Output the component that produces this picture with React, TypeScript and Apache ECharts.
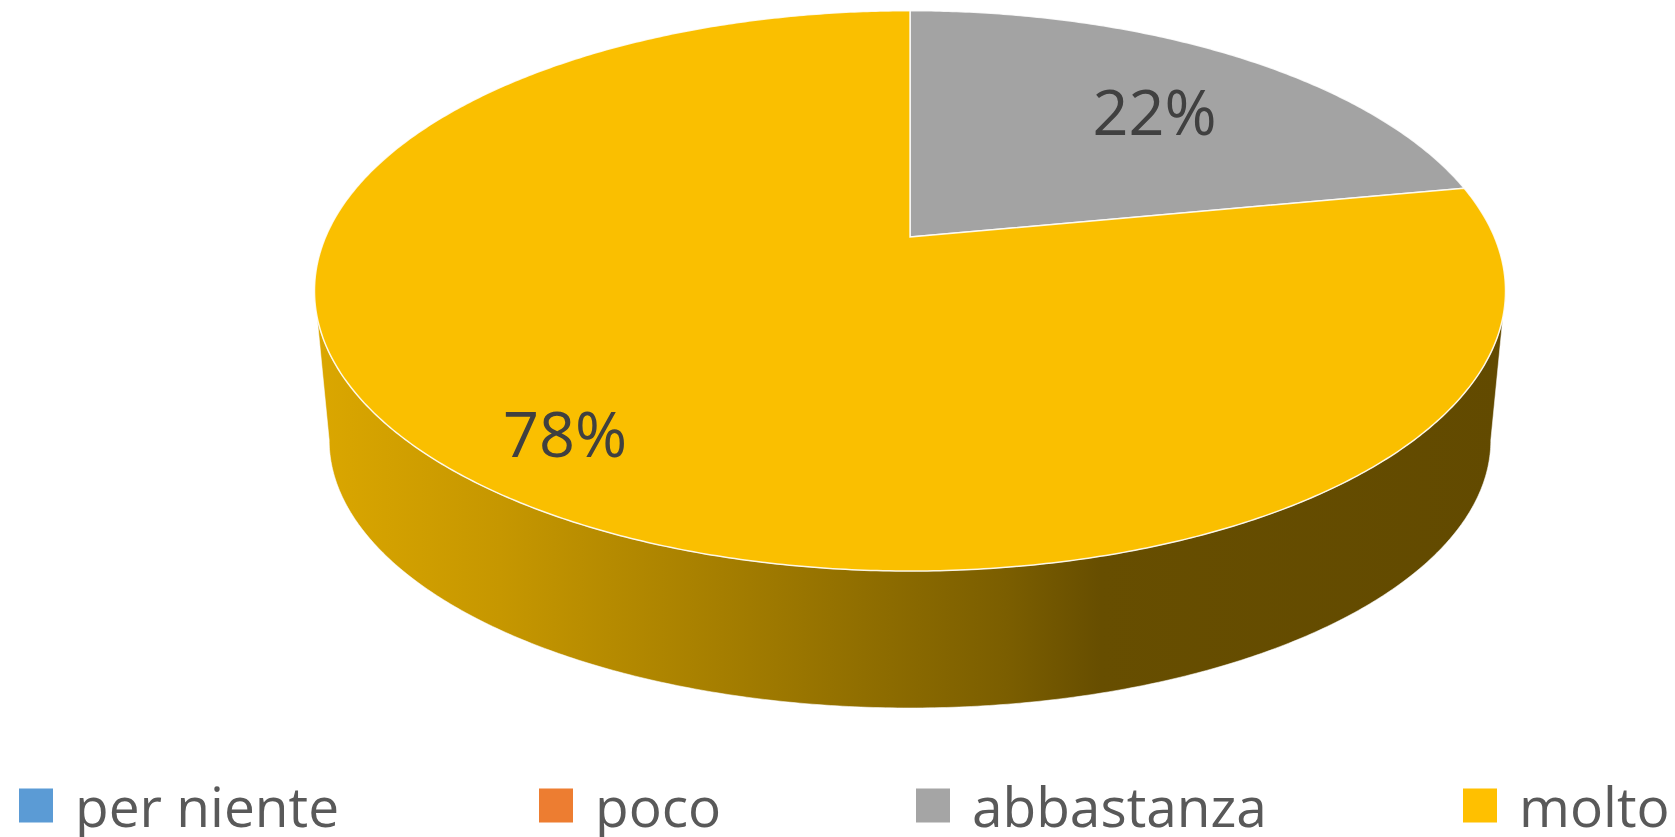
import React, { useEffect, useRef } from "react";
import * as echarts from "echarts";

// ---- data ----
const categories = ["per niente", "poco", "abbastanza", "molto"];
const values = [0, 0, 22, 78];

// ---- style ----
const sliceColors = ["#5B9BD5", "#ED7D31", "#A3A3A3", "#FABF00"];
const legendColors = ["#5B9BD5", "#ED7D31", "#A5A5A5", "#FFC000"];
const legendLeft = [19, 539, 916, 1463];
const labelRadius = [0.7, 0.7, 0.69, 0.82];
const labelNudgeDeg = [0, 0, 2.2, -0.4];

// perspective geometry of the tilted pie
const K = 0.1922;
const TOP = { cx: 910, cy: 237, s: 584.4, t: 269.8 };
const BOT = { cx: 910, cy: 388.6, s: 570, t: 258 };
const TH_R = Math.acos(-K);
const TH_L = 2 * Math.PI - TH_R;

function proj(g: any, th: number, r = 1): number[] {
  const c = Math.cos(th) * r;
  const sn = Math.sin(th) * r;
  const d = 1 + K * c;
  return [g.cx + (g.s * sn) / d, g.cy - (g.t * c) / d];
}

function arc(g: any, a0: number, a1: number): number[][] {
  const n = Math.max(2, Math.ceil((a1 - a0) / (Math.PI / 360)));
  const pts: number[][] = [];
  for (let i = 0; i <= n; i++) pts.push(proj(g, a0 + ((a1 - a0) * i) / n));
  return pts;
}

function darken(hex: string, f: number): string {
  const h = hex.replace("#", "");
  const r = Math.round(parseInt(h.slice(0, 2), 16) * f);
  const g = Math.round(parseInt(h.slice(2, 4), 16) * f);
  const b = Math.round(parseInt(h.slice(4, 6), 16) * f);
  return `rgb(${r},${g},${b})`;
}

export default function App() {
  const ref = useRef<HTMLDivElement>(null);
  useEffect(() => {
    if (!ref.current) return;
    const chart = echarts.init(ref.current, undefined, { renderer: "svg" });
    const total = values.reduce((a, b) => a + b, 0);
    let acc = 0;
    const ranges = values.map((v) => {
      const s = acc / total;
      acc += v;
      return [s, acc / total, v];
    });

    const series = categories.map((name, i) => ({
      type: "custom",
      name,
      coordinateSystem: "none",
      itemStyle: { color: legendColors[i] },
      data: [ranges[i]],
      renderItem: (params: any, api: any) => {
        const a0 = api.value(0) * 2 * Math.PI;
        const a1 = api.value(1) * 2 * Math.PI;
        const v = api.value(2);
        const children: any[] = [];
        if (a1 - a0 < 1e-6) return { type: "group", children };
        const base = sliceColors[i];
        const lo = Math.max(a0, TH_R);
        const hi = Math.min(a1, TH_L);
        if (hi > lo) {
          const pts = arc(TOP, lo, hi).concat(arc(BOT, lo, hi).reverse());
          children.push({
            type: "polygon",
            z2: 1,
            shape: { points: pts },
            style: {
              fill: new echarts.graphic.LinearGradient(
                315,
                0,
                1506,
                0,
                [
                  { offset: 0, color: darken(base, 0.875) },
                  { offset: 0.155, color: darken(base, 0.79) },
                  { offset: 0.41, color: darken(base, 0.61) },
                  { offset: 0.58, color: darken(base, 0.49) },
                  { offset: 0.66, color: darken(base, 0.41) },
                  { offset: 1, color: darken(base, 0.39) },
                ],
                true
              ),
              stroke: "rgba(255,255,255,0.55)",
              lineWidth: 1,
            },
          });
        }
        const full = a1 - a0 > 2 * Math.PI - 1e-6;
        const topPts = full ? arc(TOP, a0, a1) : [[TOP.cx, TOP.cy]].concat(arc(TOP, a0, a1));
        children.push({
          type: "polygon",
          z2: 2,
          shape: { points: topPts },
          style: { fill: base, stroke: "rgba(255,255,255,0.85)", lineWidth: 1.5 },
        });
        const mid = (a0 + a1) / 2 + (labelNudgeDeg[i] * Math.PI) / 180;
        const [lx, ly] = proj(TOP, mid, labelRadius[i]);
        children.push({
          type: "text",
          z2: 3,
          style: {
            text: Math.round((v / total) * 100) + "%",
            x: lx,
            y: ly,
            fill: "#404040",
            fontSize: 63,
            fontFamily: "Open Sans",
            align: "center",
            verticalAlign: "middle",
          },
        });
        return { type: "group", children };
      },
    }));

    const legend = categories.map((name, i) => ({
      data: [name],
      left: legendLeft[i],
      top: 778,
      padding: 0,
      icon: "rect",
      itemWidth: 34,
      itemHeight: 34,
      selectedMode: false,
      textStyle: {
        color: "#595959",
        fontSize: 55,
        fontFamily: "Open Sans",
        padding: [0, 0, 0, 17],
      },
    }));

    chart.setOption({
      animation: false,
      backgroundColor: "#ffffff",
      legend,
      series,
    } as any);
    return () => chart.dispose();
  }, []);
  return (
    <div
      ref={ref}
      style={{ position: "fixed", left: 0, top: 0, width: 1675, height: 837 }}
    />
  );
}
